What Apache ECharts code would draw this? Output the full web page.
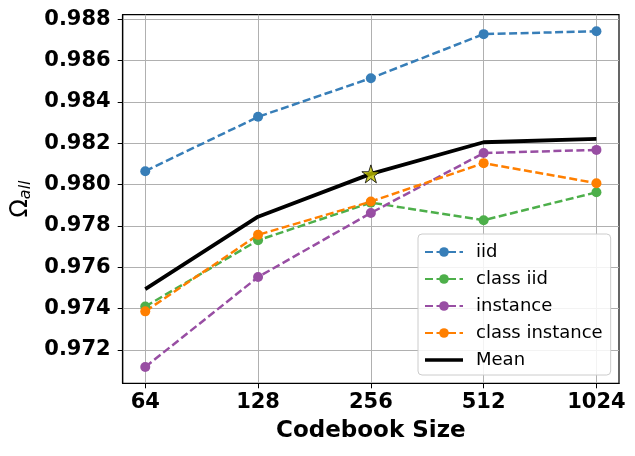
<!DOCTYPE html>
<html>
<head>
<meta charset="utf-8">
<script src="https://cdn.jsdelivr.net/npm/echarts@6/dist/echarts.min.js"></script>
<style>html,body{margin:0;padding:0;background:#fff;}#c{width:635px;height:456px;}</style>
</head>
<body>
<div id="c"></div>
<script>
const categories = ['64', '128', '256', '512', '1024'];
const yTicks = [0.972, 0.974, 0.976, 0.978, 0.980, 0.982, 0.984, 0.986, 0.988];
const iid = [0.98065, 0.98328, 0.98515, 0.98728, 0.98742];
const classIid = [0.97410, 0.97731, 0.97913, 0.97828, 0.97963];
const instance = [0.97118, 0.97553, 0.97863, 0.98153, 0.98168];
const classInstance = [0.97387, 0.97757, 0.97918, 0.98104, 0.98007];
const mean = [0.97495, 0.97845, 0.98052, 0.98205, 0.98221];
const bestIndex = 2;

const pts = arr => arr.map((v, i) => [i, v]);
const starPath = 'path://M50,0 L61.8,36.2 L100,36.2 L69.1,58.8 L80.9,95.1 L50,72.7 L19.1,95.1 L30.9,58.8 L0,36.2 L38.2,36.2 Z';
const solidLineIcon = 'path://M0,0 L0.01,0 L0.01,0.01 Z M0,4.2 L38,4.2 L38,7.8 L0,7.8 Z M0,12 L0.01,12 L0.01,11.99 Z';

function dashed(name, data, color) {
  return {
    name: name, type: 'line', data: pts(data),
    symbol: 'circle', symbolSize: 10,
    lineStyle: { color: color, width: 2.5, type: [8, 3.5] },
    itemStyle: { color: color },
    z: 3
  };
}

const chart = echarts.init(document.getElementById('c'), null, { renderer: 'canvas' });
chart.setOption({
  animation: false,
  backgroundColor: '#fff',
  grid: { left: 122.7, right: 16, top: 14.7, bottom: 72.7, show: true, borderColor: '#000', borderWidth: 1.2, backgroundColor: 'transparent' },
  xAxis: {
    type: 'value', min: -0.2, max: 4.2,
    name: 'Codebook Size', nameLocation: 'middle', nameGap: 36,
    nameTextStyle: { fontFamily: 'DejaVu Sans', fontWeight: 'bold', fontSize: 23, color: '#000' },
    axisLine: { show: true, onZero: false, lineStyle: { color: '#000', width: 1.2 } },
    axisTick: { show: true, length: 5, lineStyle: { color: '#000', width: 1 }, customValues: categories.map((c, i) => i) },
    axisLabel: { show: true, margin: 9, customValues: categories.map((c, i) => i),
      formatter: v => categories[Math.round(v)] || '',
      fontFamily: 'DejaVu Sans', fontWeight: 'bold', fontSize: 21, color: '#000' },
    splitLine: { show: true, lineStyle: { color: '#b0b0b0', width: 1 } }
  },
  yAxis: {
    type: 'value', min: 0.97039, max: 0.98822, splitNumber: 9,
    name: '{o|Ω}{s|all}', nameLocation: 'middle', nameGap: 84, nameRotate: 90,
    nameTextStyle: { color: '#000', rich: {
      o: { fontFamily: 'DejaVu Sans', fontSize: 24, color: '#000' },
      s: { fontFamily: 'DejaVu Sans', fontStyle: 'italic', fontSize: 16, color: '#000', padding: [10, 0, 0, 0] }
    } },
    axisLine: { show: true, onZero: false, lineStyle: { color: '#000', width: 1.2 } },
    axisTick: { show: true, length: 5, lineStyle: { color: '#000', width: 1 }, customValues: yTicks },
    axisLabel: { show: true, margin: 12, customValues: yTicks,
      formatter: v => v.toFixed(3),
      fontFamily: 'DejaVu Sans', fontWeight: 'bold', fontSize: 21, color: '#000' },
    splitLine: { show: true, lineStyle: { color: '#b0b0b0', width: 1 } }
  },
  legend: {
    orient: 'vertical', left: 418, top: 234,
    padding: [9, 8, 6, 6], itemGap: 9, itemWidth: 38, itemHeight: 12,
    backgroundColor: 'rgba(255,255,255,0.85)', borderColor: '#cccccc', borderWidth: 1, borderRadius: 4,
    textStyle: { fontFamily: 'DejaVu Sans', fontSize: 18, color: '#000', padding: [0, 0, 0, 8], lineHeight: 18 },
    data: ['iid', 'class iid', 'instance', 'class instance', { name: 'Mean', icon: solidLineIcon, itemStyle: { color: '#000' } }]
  },
  series: [
    dashed('iid', iid, '#377eb8'),
    dashed('class iid', classIid, '#4daf4a'),
    dashed('instance', instance, '#984ea3'),
    dashed('class instance', classInstance, '#ff7f00'),
    {
      name: 'Mean', type: 'line', data: pts(mean), symbol: 'none',
      lineStyle: { color: '#000', width: 3.8 }, itemStyle: { color: '#000' }, z: 4
    },
    {
      name: 'best', type: 'scatter', data: [[bestIndex, mean[bestIndex]]],
      symbol: starPath, symbolSize: 18,
      itemStyle: { color: '#bfbf00', borderColor: '#000', borderWidth: 1 }, z: 5
    }
  ]
});
</script>
</body>
</html>
